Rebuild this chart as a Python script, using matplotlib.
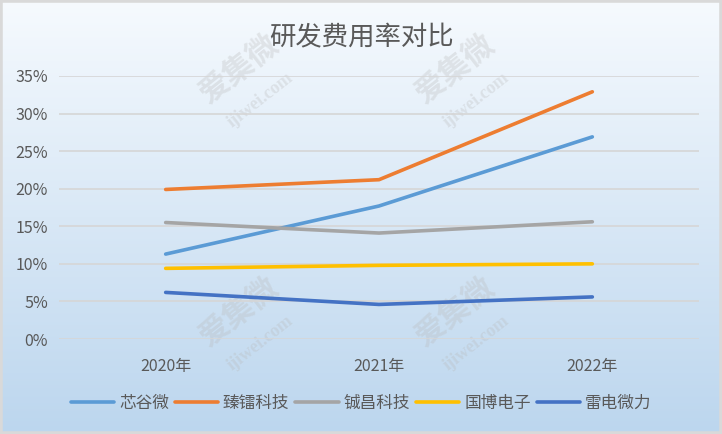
import numpy as np
import matplotlib
matplotlib.use("Agg")
import matplotlib.pyplot as plt
from matplotlib.patches import Rectangle

plt.rcParams['font.family'] = ['Noto Sans CJK SC', 'DejaVu Sans']

# ── Data ──────────────────────────────────────────────────────────────────────
years = ["2020年", "2021年", "2022年"]
xinguwei = [11.3, 17.7, 26.9]      # 芯谷微
zhenlei = [19.9, 21.2, 32.9]       # 臻镭科技
chengchang = [15.5, 14.1, 15.6]    # 铖昌科技
guobo = [9.4, 9.8, 10.0]           # 国博电子
leidian = [6.2, 4.6, 5.6]          # 雷电微力

series = [
    ("芯谷微", xinguwei, "#5B9BD5"),
    ("臻镭科技", zhenlei, "#ED7D31"),
    ("铖昌科技", chengchang, "#A5A5A5"),
    ("国博电子", guobo, "#FFC000"),
    ("雷电微力", leidian, "#4472C4"),
]

W, H = 722, 434
fig = plt.figure(figsize=(W / 100, H / 100), dpi=100)

# ── Background gradient + border ──────────────────────────────────────────────
bg = fig.add_axes([0, 0, 1, 1], zorder=0)
top = np.array([246, 250, 254]) / 255
bot = np.array([188, 214, 238]) / 255
t = np.linspace(0, 1, 256)[:, None]
grad = (top[None, :] * (1 - t) + bot[None, :] * t)[:, None, :]
bg.imshow(grad, aspect="auto", extent=[0, 1, 0, 1], origin="upper")
bg.add_patch(Rectangle((0, 0), 1, 1, transform=bg.transAxes, fill=False,
                       ec="#D9D9D9", lw=4))
bg.set_xlim(0, 1)
bg.set_ylim(0, 1)
bg.axis("off")

# watermarks
for (wx, wy) in [(0.33, 0.84), (0.63, 0.84), (0.33, 0.28), (0.63, 0.28)]:
    bg.text(wx, wy, "爱集微", fontsize=22, color="#B8B8B8", alpha=0.3,
            rotation=38, ha="center", va="center", fontweight="bold")
    bg.text(wx + 0.03, wy - 0.07, "ijiwei.com", fontsize=13, color="#B8B8B8",
            alpha=0.3, rotation=38, ha="center", va="center",
            family="Liberation Serif", fontweight="bold")

# ── Chart ─────────────────────────────────────────────────────────────────────
ax = fig.add_axes([59 / W, 1 - 339 / H, 640 / W, 263 / H], zorder=1)
ax.patch.set_alpha(0)

x = np.arange(len(years))
for name, vals, col in series:
    ax.plot(x, vals, color=col, lw=2.6, solid_capstyle="round",
            solid_joinstyle="round", label=name)

ax.set_xlim(-0.5, 2.5)
ax.set_ylim(0, 35)
ax.set_yticks(np.arange(0, 36, 5))
ax.set_yticklabels([f"{v}%" for v in range(0, 36, 5)])
ax.set_xticks(x)
ax.set_xticklabels(years)
ax.grid(axis="y", color="#D6D6D6", lw=1.2)
ax.set_axisbelow(True)
for s in ax.spines.values():
    s.set_visible(False)
ax.tick_params(length=0, colors="#595959", labelsize=11.5)
ax.tick_params(axis="x", pad=14)
ax.tick_params(axis="y", pad=8)

fig.text(0.5, 1 - 38 / H, "研发费用率对比", ha="center", va="center",
         fontsize=19, color="#595959")

fig.legend(loc="center", bbox_to_anchor=(0.5, 1 - 403 / H), ncol=5,
           frameon=False, fontsize=12, handlelength=2.6, handletextpad=0.3,
           columnspacing=0.35, labelcolor="#595959")

fig.savefig("out.png", dpi=100)
